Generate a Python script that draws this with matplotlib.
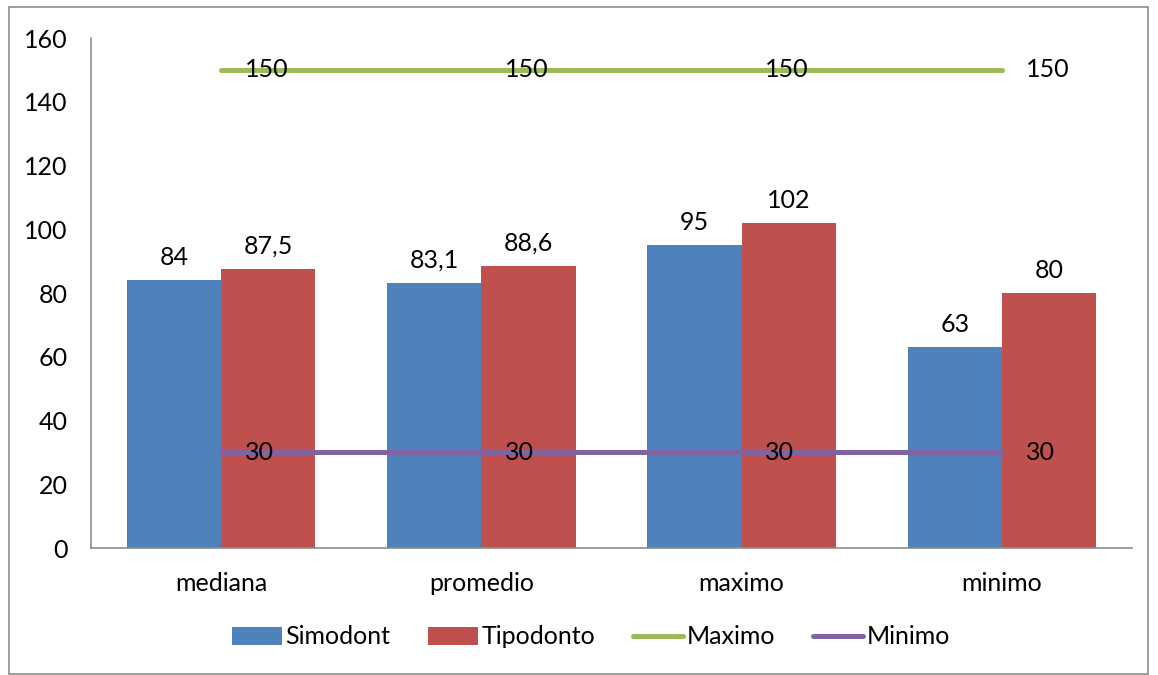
import numpy as np
import matplotlib.pyplot as plt
from matplotlib.patches import Rectangle

plt.rcParams['font.family'] = ['Lato', 'DejaVu Sans']

# data
categorias = ['mediana', 'promedio', 'maximo', 'minimo']
simodont = [84, 83.1, 95, 63]
tipodonto = [87.5, 88.6, 102, 80]
maximo = [150, 150, 150, 150]
minimo = [30, 30, 30, 30]

FS = 18

def fmt(v):
    # comma as decimal separator, like the original
    s = ('%g' % v)
    return s.replace('.', ',')

fig = plt.figure(figsize=(11.58, 6.75), dpi=100)
ax = fig.add_axes([0.0786, 0.1881, 0.899, 0.7556])

# outer frame around the whole chart
fig.patches.append(Rectangle((9 / 1158, 1 - 674 / 675), 1139 / 1158, 667 / 675,
                             transform=fig.transFigure, fill=False,
                             edgecolor='#8c8c8c', linewidth=1.2))

x = np.arange(len(categorias))
w = 0.362
b1 = ax.bar(x - w / 2, simodont, w, color='#4F81BD', label='Simodont')
b2 = ax.bar(x + w / 2, tipodonto, w, color='#C0504D', label='Tipodonto')
l1, = ax.plot(x, maximo, color='#9BBB59', lw=3.6, solid_capstyle='round', label='Maximo')
l2, = ax.plot(x, minimo, color='#8064A2', lw=3.6, solid_capstyle='round', label='Minimo')

for bars, vals in ((b1, simodont), (b2, tipodonto)):
    for r, v in zip(bars, vals):
        ax.annotate(fmt(v), (r.get_x() + r.get_width() / 2, v), xytext=(0, 8),
                    textcoords='offset points', ha='center', va='bottom', fontsize=FS)

for vals in (maximo, minimo):
    for xi, v in zip(x, vals):
        ax.annotate(fmt(v), (xi, v), xytext=(17, 0), textcoords='offset points',
                    ha='left', va='center', fontsize=FS)

ax.set_xlim(-0.5, 3.5)
ax.set_ylim(0, 160)
ax.set_yticks(range(0, 161, 20))
ax.set_xticks(x)
ax.set_xticklabels(categorias)
ax.tick_params(axis='both', length=0, labelsize=FS)
ax.tick_params(axis='y', pad=17)
ax.tick_params(axis='x', pad=17)
for s in ('top', 'right'):
    ax.spines[s].set_visible(False)
for s in ('left', 'bottom'):
    ax.spines[s].set_color('#8c8c8c')
    ax.spines[s].set_linewidth(1.2)

fig.legend(handles=[b1, b2, l1, l2], loc='center', bbox_to_anchor=(0.51, 1 - 637 / 675),
           ncol=4, frameon=False, fontsize=FS, handlelength=2.0, handleheight=0.7,
           handletextpad=0.15, columnspacing=1.5)

fig.savefig('out.png', dpi=100)
